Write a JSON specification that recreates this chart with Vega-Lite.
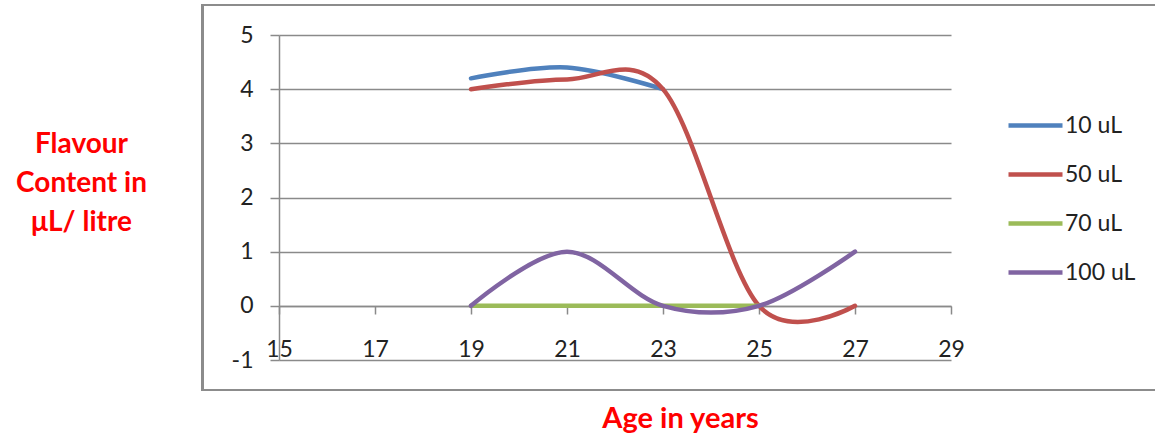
{
  "$schema": "https://vega.github.io/schema/vega-lite/v6.json",
  "autosize": "none",
  "width": 672,
  "height": 325,
  "padding": {"left": 279, "top": 35, "right": 204, "bottom": 79},
  "background": "white",
  "config": {
    "view": {"stroke": null},
    "font": "Lato",
    "axis": {"labelFont": "Lato", "labelFontSize": 23, "labelColor": "#222222", "titleFont": "Lato"}
  },
  "data": {
    "values": [
      {"series": "10 uL", "age": 19, "value": 4.2},
      {"series": "10 uL", "age": 21, "value": 4.4},
      {"series": "10 uL", "age": 23, "value": 4.0},
      {"series": "50 uL", "age": 19, "value": 4.0},
      {"series": "50 uL", "age": 21, "value": 4.18},
      {"series": "50 uL", "age": 23, "value": 4.0},
      {"series": "50 uL", "age": 25, "value": 0},
      {"series": "50 uL", "age": 27, "value": 0},
      {"series": "70 uL", "age": 19, "value": 0},
      {"series": "70 uL", "age": 21, "value": 0},
      {"series": "70 uL", "age": 23, "value": 0},
      {"series": "70 uL", "age": 25, "value": 0},
      {"series": "100 uL", "age": 19, "value": 0},
      {"series": "100 uL", "age": 21, "value": 1},
      {"series": "100 uL", "age": 23, "value": 0},
      {"series": "100 uL", "age": 25, "value": 0},
      {"series": "100 uL", "age": 27, "value": 1}
    ]
  },
  "layer": [
    {
      "mark": {"type": "rect", "fill": null, "stroke": "#8c8c8c", "strokeWidth": 2, "clip": false},
      "encoding": {
        "x": {"datum": 13.4, "type": "quantitative"},
        "x2": {"datum": 34},
        "y": {"datum": 5.556, "type": "quantitative"},
        "y2": {"datum": -1.556}
      }
    },
    {
      "mark": {"type": "line", "interpolate": "cardinal", "tension": 0, "strokeWidth": 4.5, "strokeCap": "round"},
      "encoding": {
        "x": {
          "field": "age", "type": "quantitative",
          "scale": {"domain": [15, 29], "nice": false, "zero": false},
          "axis": {
            "values": [15, 17, 19, 21, 23, 25, 27, 29],
            "labelExpr": "'' + datum.value",
            "labelFlush": false,
            "labelOverlap": false,
            "offset": -54,
            "grid": false,
            "domainColor": "#8a8a8a", "domainWidth": 1.5,
            "tickColor": "#8a8a8a", "tickWidth": 1.5, "tickSize": 8,
            "labelPadding": 24,
            "labelBaseline": "top",
            "title": "Age in years",
            "titleColor": "#ff0000", "titleFontSize": 29, "titleFontWeight": "bold",
            "titleX": 401, "titleY": 112, "titleAnchor": null, "titleAlign": "center", "titleBaseline": "middle"
          }
        },
        "y": {
          "field": "value", "type": "quantitative",
          "scale": {"domain": [-1, 5], "nice": false, "zero": false},
          "axis": {
            "values": [-1, 0, 1, 2, 3, 4, 5],
            "labelExpr": "'' + datum.value",
            "labelFlush": false,
            "grid": true, "gridColor": "#8a8a8a", "gridWidth": 1.5,
            "domainColor": "#8a8a8a", "domainWidth": 1.5,
            "tickColor": "#8a8a8a", "tickWidth": 1.5, "tickSize": 9,
            "labelPadding": 17,
            "title": ["Flavour", "Content in", "μL/ litre"],
            "titleColor": "#ff0000", "titleFontSize": 28, "titleFontWeight": "bold",
            "titleAngle": 0, "titleAlign": "center", "titleBaseline": "alphabetic",
            "titleLineHeight": 39,
            "titleX": -198, "titleY": 117, "titleAnchor": null
          }
        },
        "color": {
          "field": "series", "type": "nominal",
          "scale": {"domain": ["10 uL", "50 uL", "70 uL", "100 uL"], "range": ["#4f81bd", "#c0504d", "#9bbb59", "#8064a2"]},
          "legend": {
            "title": null,
            "orient": "none", "legendX": 727, "legendY": 61,
            "padding": 0,
            "symbolType": "stroke", "symbolSize": 2916, "symbolStrokeWidth": 4.5,
            "rowPadding": 7,
            "labelFont": "Lato", "labelFontSize": 23, "labelColor": "#222222", "labelOffset": 0
          }
        }
      }
    }
  ]
}
